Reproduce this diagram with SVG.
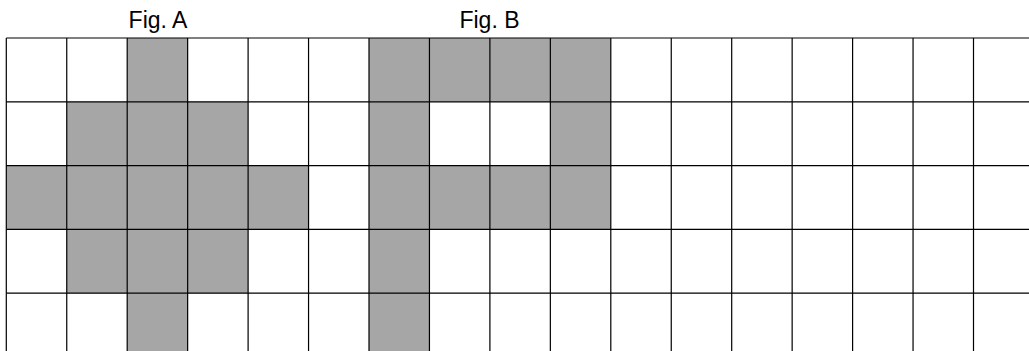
<svg xmlns="http://www.w3.org/2000/svg" width="1029" height="351" viewBox="0 0 1029 351">
<style>
.lbl{font-family:"Liberation Sans",Arial,sans-serif;font-size:23px;fill:#000;text-anchor:middle}
.on{fill:#A6A6A6}
.ln{stroke:#000;stroke-width:1.2;fill:none}
</style>
<rect width="1029" height="351" fill="#fff"/>
<g id="labels">
<text class="lbl" x="158" y="28">Fig. A</text>
<text class="lbl" x="489.5" y="28">Fig. B</text>
</g>
<g id="figA">
<rect class="on" x="127.2" y="38" width="60.45" height="63.8"/>
<rect class="on" x="66.75" y="101.8" width="181.35" height="63.8"/>
<rect class="on" x="6.3" y="165.6" width="302.25" height="63.8"/>
<rect class="on" x="66.75" y="229.4" width="181.35" height="63.8"/>
<rect class="on" x="127.2" y="293.2" width="60.45" height="57.8"/>
</g>
<g id="figB">
<rect class="on" x="369" y="38" width="241.8" height="63.8"/>
<rect class="on" x="369" y="101.8" width="60.45" height="63.8"/>
<rect class="on" x="550.35" y="101.8" width="60.45" height="63.8"/>
<rect class="on" x="369" y="165.6" width="241.8" height="63.8"/>
<rect class="on" x="369" y="229.4" width="60.45" height="121.6"/>
</g>
<g id="grid" class="ln">
<path d="M6.3 38H1029M6.3 101.8H1029M6.3 165.6H1029M6.3 229.4H1029M6.3 293.2H1029"/>
<path d="M6.3 38V351M66.75 38V351M127.2 38V351M187.65 38V351M248.1 38V351M308.55 38V351M369 38V351M429.45 38V351M489.9 38V351M550.35 38V351M610.8 38V351M671.25 38V351M731.7 38V351M792.15 38V351M852.6 38V351M913.05 38V351M973.5 38V351"/>
</g>
</svg>
